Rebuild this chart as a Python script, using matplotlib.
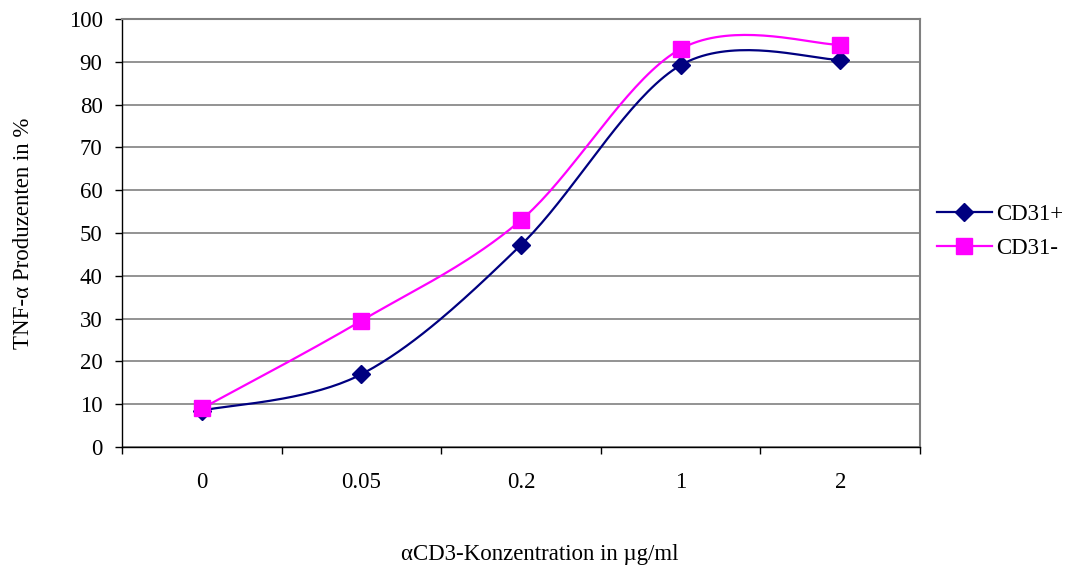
import numpy as np
import matplotlib.pyplot as plt
from matplotlib.lines import Line2D

plt.rcParams['font.family'] = ['Liberation Serif', 'DejaVu Serif']

# Anteil TNF-alpha produzierender Zellen je aCD3-Konzentration
konzentration = ['0', '0.05', '0.2', '1', '2']
cd31_pos = [8.5, 17.0, 47.2, 89.2, 90.5]
cd31_neg = [9.0, 29.5, 53.0, 93.0, 94.0]


def smooth(xs, ys, n=40):
    # Catmull-Rom style smoothing like the spreadsheet "smoothed line"
    xs = np.asarray(xs, float)
    ys = np.asarray(ys, float)
    px = np.concatenate([[xs[0]], xs, [xs[-1]]])
    py = np.concatenate([[ys[0]], ys, [ys[-1]]])
    out_x, out_y = [], []
    t = np.linspace(0, 1, n)
    for i in range(1, len(px) - 2):
        p0 = np.array([px[i], py[i]])
        p3 = np.array([px[i + 1], py[i + 1]])
        c1 = p0 + (p3 - np.array([px[i - 1], py[i - 1]])) / 6
        c2 = p3 - (np.array([px[i + 2], py[i + 2]]) - p0) / 6
        b = ((1 - t) ** 3)[:, None] * p0 + (3 * (1 - t) ** 2 * t)[:, None] * c1 \
            + (3 * (1 - t) * t ** 2)[:, None] * c2 + (t ** 3)[:, None] * p3
        out_x.extend(b[:, 0])
        out_y.extend(b[:, 1])
    return out_x, out_y


fs = 16.5
fig = plt.figure(figsize=(10.74, 5.70), dpi=100)
ax = fig.add_axes([122 / 1074, 123 / 570, 798 / 1074, 428 / 570])

x = np.arange(len(konzentration))
navy = '#000080'
magenta = '#ff00ff'

sx, sy = smooth(x, cd31_pos)
ax.plot(sx, sy, color=navy, lw=1.6, zorder=3)
ax.plot(x, cd31_pos, ls='none', marker='D', ms=9, color=navy, zorder=4)

sx, sy = smooth(x, cd31_neg)
ax.plot(sx, sy, color=magenta, lw=1.6, zorder=3)
ax.plot(x, cd31_neg, ls='none', marker='s', ms=11, color=magenta, zorder=5)

ax.set_xlim(-0.5, len(konzentration) - 0.5)
ax.set_ylim(0, 100)
ax.set_yticks(range(0, 101, 10))
ax.set_xticks(np.arange(-0.5, len(konzentration), 1.0))
ax.set_xticklabels([])
ax.set_xticks(x, minor=True)
ax.set_xticklabels(konzentration, minor=True)
ax.tick_params(axis='x', which='minor', length=0, pad=18, labelsize=fs)
ax.tick_params(axis='x', which='major', length=5, width=1, direction='out')
ax.tick_params(axis='y', length=5, width=1, pad=9, labelsize=fs)

ax.grid(axis='y', color='#808080', lw=1.2)
ax.set_axisbelow(True)
for s in ['top', 'right']:
    ax.spines[s].set_color('#808080')
    ax.spines[s].set_linewidth(1.5)
for s in ['left', 'bottom']:
    ax.spines[s].set_color('black')
    ax.spines[s].set_linewidth(1.0)

ax.set_ylabel('TNF-α Produzenten in %', fontsize=fs)
ax.yaxis.set_label_coords((34 - 122) / 798, 0.5)
fig.text(0.503, 0.028, 'αCD3-Konzentration in µg/ml', ha='center', va='center', fontsize=fs)

handles = [
    Line2D([], [], color=navy, lw=1.6, marker='D', ms=9),
    Line2D([], [], color=magenta, lw=1.6, marker='s', ms=11),
]
fig.legend(handles, ['CD31+', 'CD31-'], loc='center left', bbox_to_anchor=(0.853, 0.594),
           frameon=False, fontsize=fs, handlelength=2.4, handletextpad=0.2, labelspacing=0.6)

fig.savefig('out.png', dpi=100)
